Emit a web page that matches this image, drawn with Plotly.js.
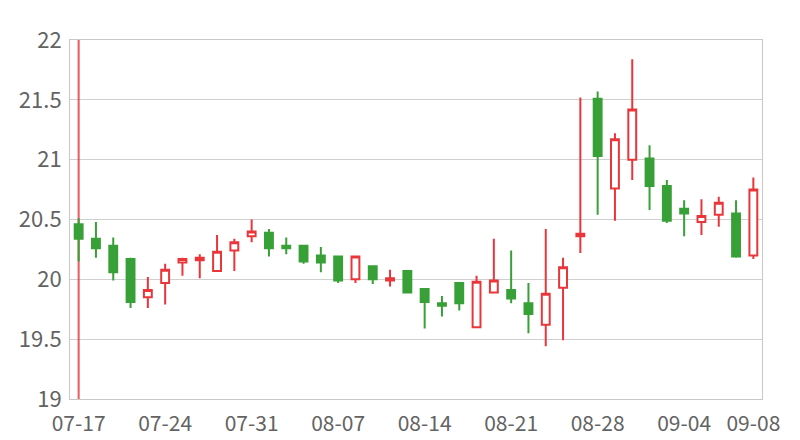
<!DOCTYPE html>
<html>
<head>
<meta charset="utf-8">
<script src="https://cdn.plot.ly/plotly-3.0.1.min.js"></script>
<style>html,body{margin:0;padding:0;background:#fff;}#chart{width:800px;height:440px;}</style>
</head>
<body>
<div id="chart"></div>
<script>
var dates = ["07-17","07-18","07-19","07-20","07-21",
             "07-24","07-25","07-26","07-27","07-28",
             "07-31","08-01","08-02","08-03","08-04",
             "08-07","08-08","08-09","08-10","08-11",
             "08-14","08-15","08-16","08-17","08-18",
             "08-21","08-22","08-23","08-24","08-25",
             "08-28","08-29","08-30","08-31","09-01",
             "09-04","09-05","09-06","09-07","09-08"];
var openVals  = [20.46,20.34,20.28,20.17,19.85, 19.97,20.14,20.16,20.07,20.24,
                 20.36,20.39,20.28,20.28,20.20, 20.19,20.00,20.11,19.99,20.07,
                 19.92,19.80,19.97,19.60,19.89, 19.91,19.80,19.62,19.93,20.36,
                 21.51,20.76,21.00,21.01,20.78, 20.59,20.48,20.54,20.55,20.20];
var highVals  = [20.51,20.48,20.35,20.18,20.02, 20.13,20.18,20.21,20.37,20.34,
                 20.50,20.42,20.35,20.28,20.27, 20.19,20.20,20.11,20.08,20.07,
                 19.92,19.86,19.97,20.03,20.34, 20.24,19.97,20.42,20.18,21.52,
                 21.57,21.22,21.84,21.12,20.83, 20.66,20.67,20.69,20.66,20.85];
var lowVals   = [20.15,20.18,19.99,19.76,19.76, 19.79,20.03,20.01,20.07,20.07,
                 20.31,20.19,20.21,20.13,20.06, 19.97,19.97,19.96,19.94,19.89,
                 19.59,19.69,19.74,19.60,19.89, 19.80,19.55,19.44,19.49,20.22,
                 20.54,20.49,20.83,20.58,20.47, 20.36,20.37,20.44,20.18,20.17];
var closeVals = [20.34,20.26,20.06,19.81,19.91, 20.08,20.17,20.18,20.23,20.31,
                 20.40,20.26,20.26,20.15,20.14, 19.99,20.19,20.00,20.01,19.89,
                 19.81,19.78,19.80,19.98,19.99, 19.84,19.71,19.88,20.10,20.38,
                 21.03,21.17,21.42,20.78,20.49, 20.55,20.53,20.64,20.19,20.75];

// the long red vertical stroke at the first date
var spikeDates = ["07-17"];
var spikeLow   = [18.9];
var spikeHigh  = [22.1];

var tickDates = ["07-17","07-24","07-31","08-07","08-14","08-21","08-28","09-04","09-08"];

var RED = '#e8363b', GREEN = '#37a037';

var spike = {
  type: 'bar',
  x: spikeDates,
  base: spikeLow,
  y: spikeHigh.map(function(h,i){return h - spikeLow[i];}),
  width: 0.12,
  marker: {color: 'rgba(232,54,59,0.8)', line: {width: 0}},
  hoverinfo: 'skip',
  showlegend: false
};

var candles = {
  type: 'candlestick',
  x: dates,
  open: openVals, high: highVals, low: lowVals, close: closeVals,
  increasing: {line: {color: RED, width: 2}, fillcolor: '#ffffff'},
  decreasing: {line: {color: GREEN, width: 2}, fillcolor: GREEN},
  whiskerwidth: 0,
  showlegend: false
};

var layout = {
  width: 800, height: 440,
  margin: {l: 70, r: 38, t: 40, b: 41},
  paper_bgcolor: '#ffffff', plot_bgcolor: '#ffffff',
  font: {family: '"Noto Sans CJK SC", "Noto Sans", sans-serif', size: 21, color: '#636363'},
  showlegend: false,
  hovermode: false,
  boxgap: 0.35,
  xaxis: {
    type: 'category',
    categoryorder: 'array', categoryarray: dates,
    range: [-0.5, 39.5],
    tickmode: 'array', tickvals: tickDates, ticktext: tickDates,
    showgrid: false, zeroline: false,
    showline: true, linecolor: '#c8c8c8', linewidth: 1, mirror: true,
    ticks: '', ticklabelstandoff: 6,
    tickfont: {size: 21, color: '#636363'},
    rangeslider: {visible: false},
    fixedrange: true
  },
  yaxis: {
    range: [19, 22], dtick: 0.5, tick0: 19,
    showgrid: true, gridcolor: '#d0d0d0', gridwidth: 1,
    zeroline: false,
    showline: true, linecolor: '#c8c8c8', linewidth: 1, mirror: true,
    ticks: '', ticklabelstandoff: 3,
    tickfont: {size: 22, color: '#636363'},
    fixedrange: true
  }
};

Plotly.newPlot('chart', [spike, candles], layout, {displayModeBar: false, staticPlot: true});
</script>
</body>
</html>
